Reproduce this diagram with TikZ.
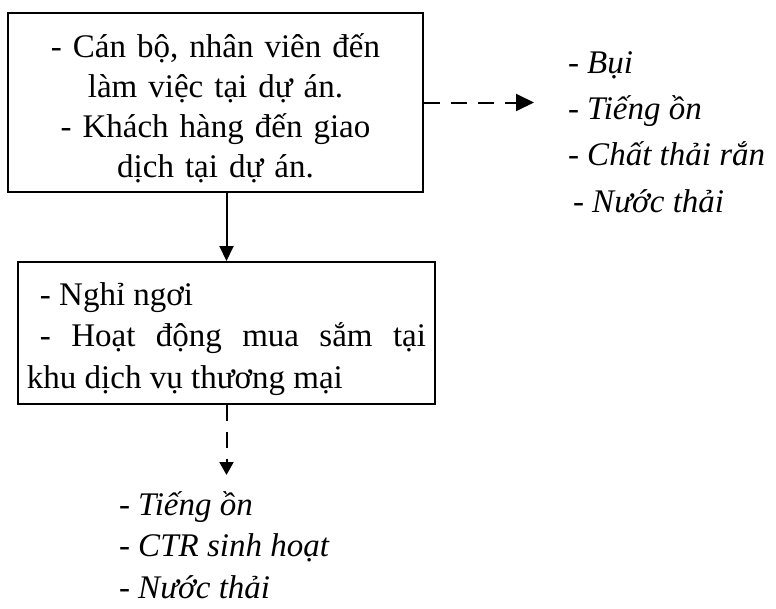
\documentclass[tikz,border=0pt]{standalone}
\usepackage{fontspec}
\setmainfont{Liberation Serif}
\usetikzlibrary{arrows.meta}

\begin{document}
\begin{tikzpicture}[x=1pt, y=-1pt, line width=2pt,
  actbox/.style={rectangle, draw, inner sep=0pt, font=\fontsize{33}{40}\selectfont},
  waste/.style={inner sep=0pt, align=left, anchor=base west, font=\fontsize{33}{46.3}\selectfont\itshape},
  flow/.style={-{Triangle[length=15pt,width=14pt]}},
  emits/.style={flow, dash pattern=on 16pt off 11pt}]
  \useasboundingbox (0,0) rectangle (776,608);
  \node (staff) [actbox, minimum width=415pt, minimum height=179pt, text width=400pt, align=center] at (215.5,102.5)
    {\rule{0pt}{37pt}- Cán bộ, nhân viên đến\\ làm việc tại dự án.\\ - Khách hàng đến giao\\ dịch tại dự án.\rule[-8pt]{0pt}{8pt}};
  \node (shopping) [actbox, minimum width=417pt, minimum height=142pt, text width=399pt, align=justify,
    font=\fontsize{33}{41.5}\selectfont] at (226.5,333)
    {\rightskip=11pt\hspace*{13pt}\rule{0pt}{35pt}- Nghỉ ngơi\par\hspace*{13pt}- Hoạt động mua sắm tại\linebreak khu dịch vụ thương mại\rule[-8pt]{0pt}{8pt}};
  \node (wastestaff) [waste] at (567,212)
    {- Bụi\\ - Tiếng ồn\\ - Chất thải rắn\\ \hspace*{5pt}- Nước thải};
  \node (wasteshop) [waste, font=\fontsize{33}{41.5}\selectfont\itshape] at (118,598)
    {- Tiếng ồn\\ - CTR sinh hoạt\\ - Nước thải};
  \coordinate (emitright) at (534,102.5);
  \coordinate (emitdown) at (226.5,475);
  \draw[flow] (staff.south -| shopping.north) -- (shopping.north);
  \draw[emits, -{Triangle[length=18pt,width=17pt]}] (staff.east) -- (emitright);
  \draw[emits, -{Triangle[length=13pt,width=14pt]}] (shopping.south) -- (emitdown);
\end{tikzpicture}
\end{document}
